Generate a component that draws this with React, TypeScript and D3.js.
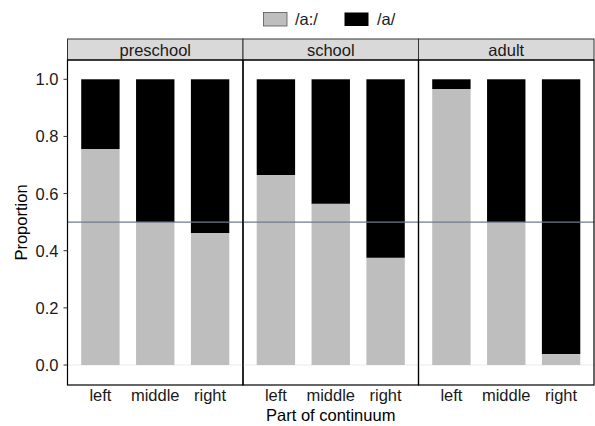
import * as d3 from 'd3';

const groups = ['preschool', 'school', 'adult'];
const parts = ['left', 'middle', 'right'];
// proportion of /a:/ responses per group, in order of parts
const longVowel = [
  [0.756, 0.5, 0.462],
  [0.665, 0.564, 0.375],
  [0.966, 0.5, 0.038],
];
const yTicks = [0, 0.2, 0.4, 0.6, 0.8, 1.0];
const legendLabels = ['/a:/', '/a/'];
const fills = ['#BEBEBE', '#000000'];

const W = 595, H = 426;
const margin = { left: 67.5, right: 1, top: 60, bottom: 41 };
const stripH = 21;
const panelW = (W - margin.left - margin.right) / groups.length;

const App = () => {
  const y = d3.scaleLinear().domain([-0.07, 1.0675]).range([H - margin.bottom, margin.top]);
  const x = d3.scaleBand().domain(parts).range([0, panelW]).paddingInner(0.3).paddingOuter(0.25);
  const font = 'Liberation Sans, Arial, Helvetica, sans-serif';
  const fs = 16.5;

  return (
    <svg width={W} height={H} style={{ position: 'absolute', left: 0, top: 0 }} fontFamily={font}>
      <rect width={W} height={H} fill="white" />
      {/* legend */}
      <g>
        <rect x={263.5} y={12.5} width={23.5} height={13.5} fill={fills[0]} stroke="#555" strokeWidth={0.8} />
        <text x={295} y={25} fontSize={fs} fill="#1a1a1a">{legendLabels[0]}</text>
        <rect x={344.5} y={12.5} width={24} height={13.5} fill={fills[1]} />
        <text x={377} y={25} fontSize={fs} fill="#1a1a1a">{legendLabels[1]}</text>
      </g>
      {groups.map((g, gi) => {
        const px = margin.left + gi * panelW;
        return (
          <g key={g} transform={`translate(${px},0)`}>
            <rect x={0} y={margin.top - stripH} width={panelW} height={stripH} fill="#D9D9D9" stroke="#333" strokeWidth={1} />
            <text x={panelW / 2} y={margin.top - stripH / 2 + 6} fontSize={fs} textAnchor="middle" fill="#1a1a1a">{g}</text>
            <line x1={0} x2={panelW} y1={y(0)} y2={y(0)} stroke="#EBEBEB" strokeWidth={1.1} />
            {parts.map((p, pi) => {
              const v = longVowel[gi][pi];
              return (
                <g key={p}>
                  <rect x={x(p)} y={y(1)} width={x.bandwidth()} height={y(v) - y(1)} fill={fills[1]} />
                  <rect x={x(p)} y={y(v)} width={x.bandwidth()} height={y(0) - y(v)} fill={fills[0]} />
                  <text x={(x(p) as number) + x.bandwidth() / 2} y={H - margin.bottom + 16} fontSize={fs} textAnchor="middle" fill="#1a1a1a">{p}</text>
                </g>
              );
            })}
            <line x1={0} x2={panelW} y1={y(0.5)} y2={y(0.5)} stroke="#6C7B8B" strokeWidth={1.1} />
            <rect x={0} y={margin.top} width={panelW} height={H - margin.bottom - margin.top} fill="none" stroke="#000" strokeWidth={1.2} />
          </g>
        );
      })}
      {/* y axis */}
      {yTicks.map(t => (
        <g key={t}>
          <line x1={margin.left - 4} x2={margin.left} y1={y(t)} y2={y(t)} stroke="#333" strokeWidth={1} />
          <text x={margin.left - 9} y={y(t) + 6} fontSize={fs} textAnchor="end" fill="#1a1a1a">{t.toFixed(1)}</text>
        </g>
      ))}
      <text transform={`translate(27,${(margin.top + H - margin.bottom) / 2}) rotate(-90)`} fontSize={fs} textAnchor="middle" fill="#000">Proportion</text>
      <text x={margin.left + 1.5 * panelW} y={H - 5.5} fontSize={fs} textAnchor="middle" fill="#000">Part of continuum</text>
    </svg>
  );
};

export default App;
